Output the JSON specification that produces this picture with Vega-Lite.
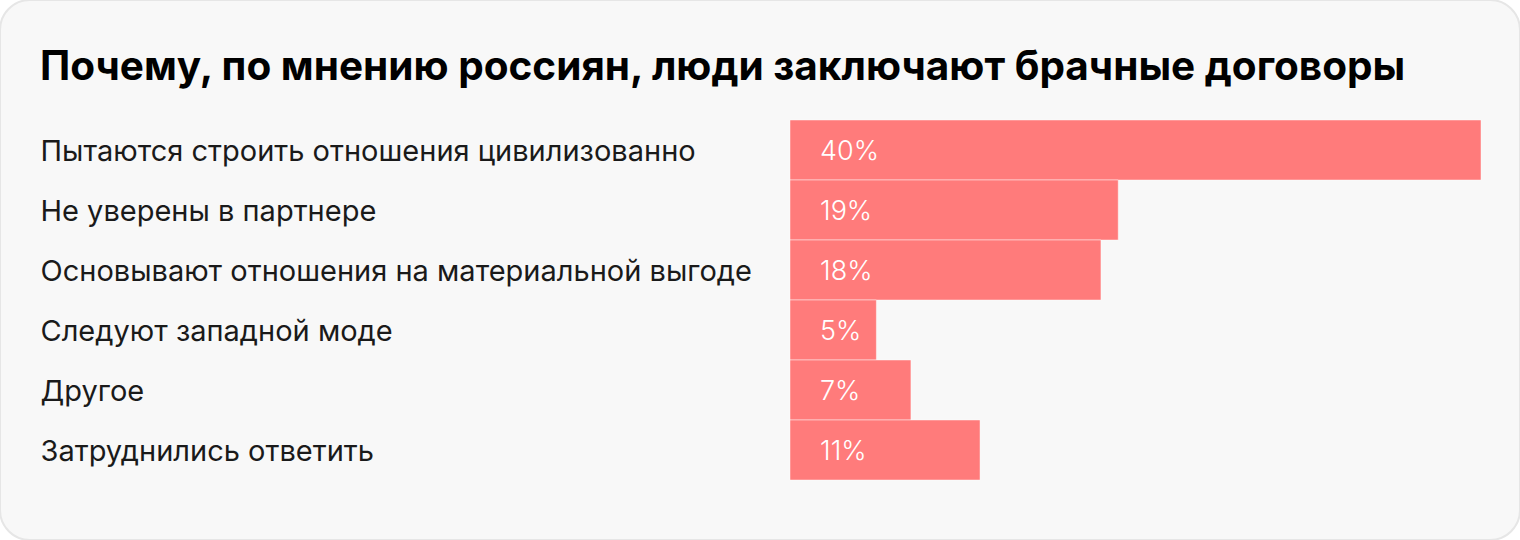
{
  "$schema": "https://vega.github.io/schema/vega-lite/v6.json",
  "width": 1520,
  "height": 540,
  "autosize": {"type": "none"},
  "padding": 0,
  "background": "#ffffff",
  "config": {
    "view": {"fill": "#f8f8f8", "stroke": "#e6e6e6", "strokeWidth": 2, "cornerRadius": 30},
    "font": "Inter"
  },
  "title": {
    "text": "Почему, по мнению россиян, люди заключают брачные договоры",
    "anchor": "start",
    "frame": "group",
    "dx": 40,
    "dy": 40,
    "offset": -80,
    "baseline": "alphabetic",
    "fontSize": 40.5,
    "fontWeight": "bold",
    "color": "#000000",
    "font": "Inter"
  },
  "data": {
    "values": [
      {"label": "Пытаются строить отношения цивилизованно", "value": 40, "pct": "40%"},
      {"label": "Не уверены в партнере", "value": 19, "pct": "19%"},
      {"label": "Основывают отношения на материальной выгоде", "value": 18, "pct": "18%"},
      {"label": "Следуют западной моде", "value": 5, "pct": "5%"},
      {"label": "Другое", "value": 7, "pct": "7%"},
      {"label": "Затруднились ответить", "value": 11, "pct": "11%"}
    ]
  },
  "encoding": {
    "y": {
      "field": "label",
      "type": "nominal",
      "sort": null,
      "scale": {"range": [120, 480], "paddingInner": 0, "paddingOuter": 0},
      "axis": {
        "title": null,
        "orient": "left",
        "offset": -40,
        "labelAlign": "left",
        "labelPadding": 0,
        "labelOffset": 2,
        "ticks": false,
        "domain": false,
        "labelFontSize": 29,
        "labelColor": "#1a1a1a",
        "labelFont": "Inter",
        "labelLimit": 0
      }
    }
  },
  "layer": [
    {
      "mark": {"type": "bar", "color": "#ff7b7b", "stroke": "#ffffff", "strokeOpacity": 0.45, "strokeWidth": 1},
      "encoding": {
        "x": {"field": "value", "type": "quantitative", "scale": {"domain": [0, 40], "range": [790, 1481]}, "axis": null}
      }
    },
    {
      "mark": {"type": "text", "align": "left", "baseline": "middle", "dx": 30, "dy": 2, "color": "#ffffff", "fontSize": 27, "font": "Inter", "fontWeight": 300},
      "encoding": {
        "x": {"datum": 0, "type": "quantitative"},
        "text": {"field": "pct", "type": "nominal"}
      }
    }
  ]
}
